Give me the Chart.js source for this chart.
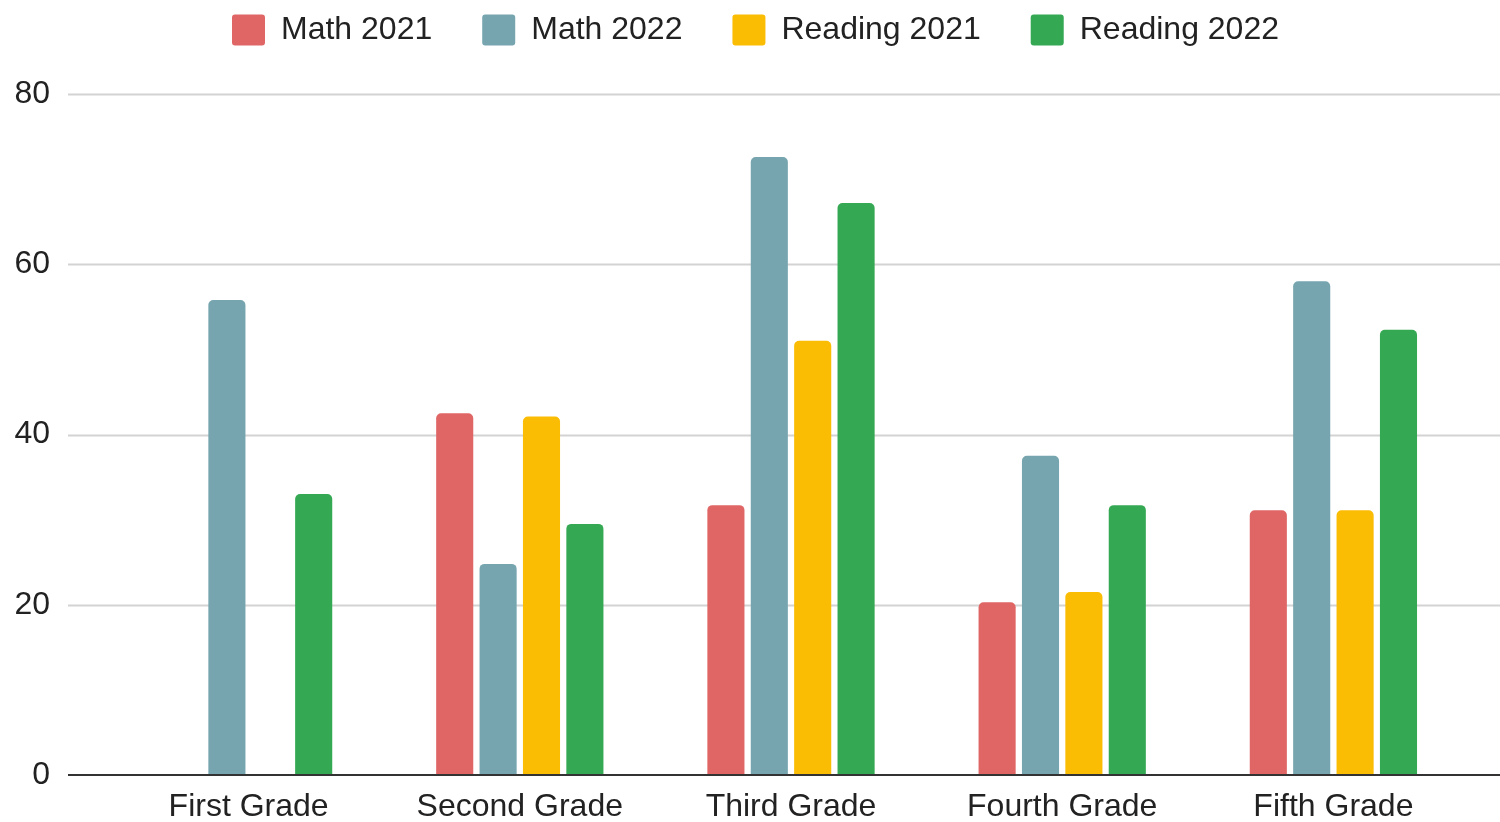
<!DOCTYPE html>
<html lang="en">
<head>
  <meta charset="UTF-8" />
  <title>Math and Reading by Grade</title>
  <script src="https://cdn.jsdelivr.net/npm/chart.js"></script>
  <style>
    html, body { margin: 0; padding: 0; background: #fff; }
    #wrap { width: 1500px; height: 822px; }
  </style>
</head>
<body>
  <div id="wrap"><canvas id="gradeChart"></canvas></div>

  <script>
    // chart data
    const grades = ["First Grade", "Second Grade", "Third Grade", "Fourth Grade", "Fifth Grade"];
    const math2021 = [null, 42.5, 31.7, 20.3, 31.1];
    const math2022 = [55.8, 24.8, 72.6, 37.5, 58.0];
    const reading2021 = [null, 42.1, 51.0, 21.5, 31.1];
    const reading2022 = [33.0, 29.5, 67.2, 31.7, 52.3];
    const yTicks = [0, 20, 40, 60, 80];

    const font = "'Liberation Sans', Arial, sans-serif";
    const textColor = "#222";

    // grid lines + baseline run wider than the bar area
    const gridPlugin = {
      id: "wideGrid",
      beforeLayout(chart) {
        // legend spacing is wide, but it shouldn't eat the plot height
        const lg = chart.legend;
        if (lg && !lg._patched) {
          const fit = lg.fit;
          lg.fit = function () { fit.call(this); this.height = 130; };
          lg._patched = true;
        }
      },
      afterLayout(chart) {
        // legend sits centred on the whole page, not on the padded area
        chart.legend.left += 21;
        chart.legend.right += 21;
      },
      beforeDatasetsDraw(chart) {
        const ctx = chart.ctx;
        const y = chart.scales.y;
        ctx.save();
        yTicks.forEach(v => {
          if (v === 0) return;
          const py = Math.round(y.getPixelForValue(v)) + 0.5;
          ctx.strokeStyle = "#d3d3d3";
          ctx.lineWidth = 2;
          ctx.beginPath();
          ctx.moveTo(68, py);
          ctx.lineTo(chart.width, py);
          ctx.stroke();
        });
        ctx.restore();
      },
      afterDatasetsDraw(chart) {
        const ctx = chart.ctx;
        const py = Math.round(chart.scales.y.getPixelForValue(0));
        ctx.save();
        ctx.strokeStyle = "#333";
        ctx.lineWidth = 2;
        ctx.beginPath();
        ctx.moveTo(68, py);
        ctx.lineTo(chart.width, py);
        ctx.stroke();
        ctx.restore();
      }
    };

    function series(label, data, color) {
      return {
        label: label,
        data: data,
        backgroundColor: color,
        borderWidth: 0,
        borderRadius: { topLeft: 5, topRight: 5, bottomLeft: 0, bottomRight: 0 },
        borderSkipped: false,
        categoryPercentage: 0.64,
        barPercentage: 0.855
      };
    }

    new Chart(document.getElementById("gradeChart"), {
      type: "bar",
      data: {
        labels: grades,
        datasets: [
          series("Math 2021", math2021, "#e06666"),
          series("Math 2022", math2022, "#76a5af"),
          series("Reading 2021", reading2021, "#fbbc04"),
          series("Reading 2022", reading2022, "#34a853")
        ]
      },
      options: {
        responsive: true,
        maintainAspectRatio: false,
        animation: false,
        layout: { padding: { top: -36, right: 31, bottom: 0, left: 0 } },
        plugins: {
          legend: {
            position: "top",
            labels: {
              font: { family: font, size: 32 },
              color: textColor,
              boxWidth: 33,
              boxHeight: 31,
              padding: 50,
              useBorderRadius: true,
              borderRadius: 3
            }
          },
          tooltip: { enabled: false }
        },
        scales: {
          x: {
            afterFit(scale) { scale.height = 47; },
            grid: { display: false, drawTicks: false },
            border: { display: false },
            ticks: {
              font: { family: font, size: 32, lineHeight: 1 },
              color: textColor,
              padding: 16,
              maxRotation: 0
            }
          },
          y: {
            min: 0,
            max: 80,
            afterFit(scale) {
              scale.width = 113;
              // big label padding would otherwise shrink the plot vertically
              scale.paddingTop = 16;
              scale.paddingBottom = 16;
            },
            afterBuildTicks(scale) { scale.ticks = yTicks.map(v => ({ value: v })); },
            grid: { display: false, drawTicks: false },
            border: { display: false },
            ticks: {
              font: { family: font, size: 32 },
              color: textColor,
              padding: 63
            }
          }
        }
      },
      plugins: [gridPlugin]
    });
  </script>
</body>
</html>
